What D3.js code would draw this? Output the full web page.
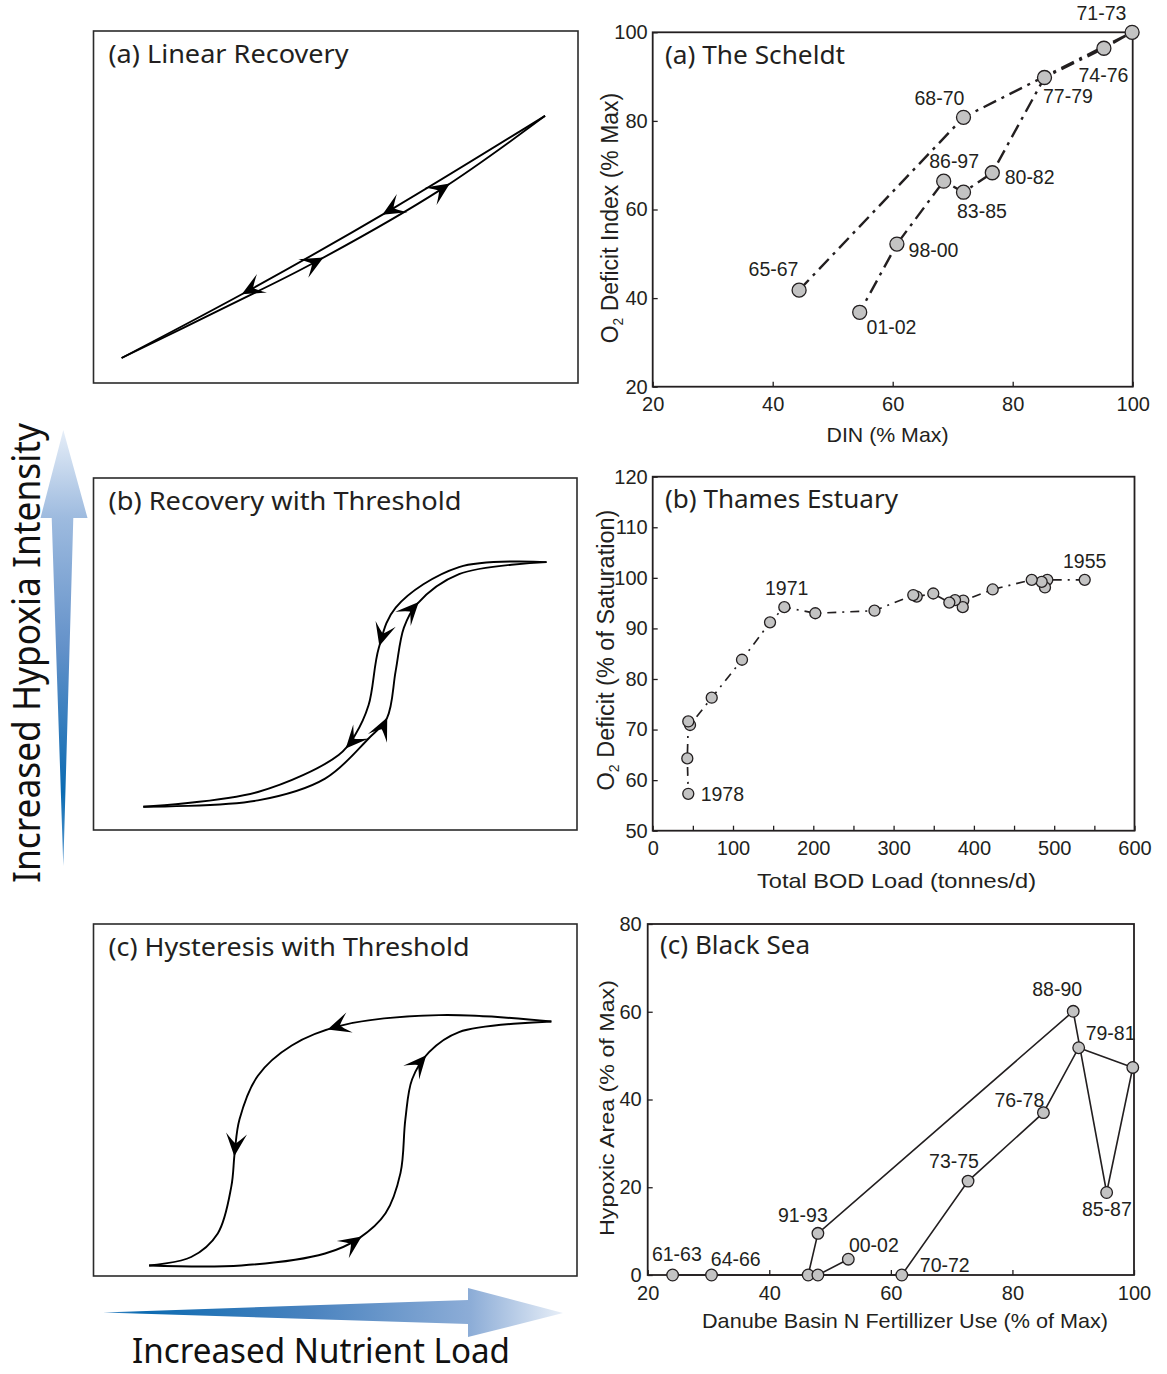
<!DOCTYPE html>
<html><head><meta charset="utf-8">
<script src="https://cdn.jsdelivr.net/npm/d3@7"></script>
<style>body{margin:0;background:#fff}svg{display:block}</style>
</head><body><svg id="c" width="1167" height="1374"></svg>
<script>
// ---------------- DATA ----------------
// (a) The Scheldt
const scheldtPeriods = ["65-67","68-70","71-73","74-76","77-79","80-82","83-85","86-97","98-00","01-02"];
const scheldtDIN     = [44.4, 71.8, 99.9, 95.2, 85.3, 76.6, 71.8, 68.5, 60.7, 54.5];
const scheldtO2      = [41.8, 80.8, 100.0, 96.4, 89.8, 68.3, 63.9, 66.4, 52.2, 36.8];
const scheldtXTicks  = [20, 40, 60, 80, 100];
const scheldtYTicks  = [20, 40, 60, 80, 100];

// (b) Thames Estuary (1955 -> 1978)
const thamesBOD    = [538, 491.4, 488.5, 484.4, 472.0, 423.4, 386.8, 386.1, 376.5, 369.4, 349.4, 328.8, 324.5, 276.2, 202.5, 163.9, 146.1, 111.2, 73.5, 46.5, 44.3, 43.1, 44.3];
const thamesO2     = [99.6, 99.6, 98.1, 99.2, 99.6, 97.7, 95.5, 94.2, 95.6, 95.1, 96.9, 96.3, 96.6, 93.5, 93.0, 94.2, 91.2, 83.8, 76.3, 70.9, 71.6, 64.3, 57.3];
const thamesLabels = ["1955","","","","","","","","","","","","","","","1971","","","","","","","1978"];
const thamesXTicks = [0, 50, 100, 150, 200, 250, 300, 350, 400, 450, 500, 550, 600];
const thamesYTicks = [50, 60, 70, 80, 90, 100, 110, 120];

// (c) Black Sea
const blackSeaLabels  = ["61-63","64-66","70-72","73-75","76-78","79-81","","85-87","88-90","91-93","","","00-02"];
const blackSeaN       = [24.1, 30.5, 61.8, 72.7, 85.1, 90.9, 99.8, 95.5, 90.0, 48.0, 46.4, 48.0, 53.0];
const blackSeaHypoxic = [0, 0, 0, 21.4, 37.0, 51.8, 47.3, 18.8, 60.1, 9.5, 0, 0, 3.6];
const blackSeaXTicks  = [20, 40, 60, 80, 100];
const blackSeaYTicks  = [0, 20, 40, 60, 80];

// Conceptual curves (panel units 0-100, drawn from low load to high load)
const linearUpper = [[5.8,7.1],[32.6,26.7],[61.6,49.4],[93.2,75.9]];
const linearLower = [[5.8,7.1],[28.2,22.2],[45.0,33.8],[71.5,54.8],[93.2,75.9]];
const thresholdUpper = [[10.3,6.6],[34.0,10.8],[50.7,21.3],[54.1,27.0],[56.9,35.5],[59.0,51.7],[62.5,63.2],[75.6,74.7],[93.7,76.1]];
const thresholdLower = [[10.3,6.6],[34.0,8.4],[47.9,14.6],[56.9,26.0],[60.7,31.8],[62.5,45.2],[64.2,57.5],[66.9,64.2],[75.6,72.7],[93.7,76.1]];
const hysteresisUpper = [[11.5,3.0],[20.2,5.4],[25.7,12.1],[28.5,25.4],[29.2,35.0],[30.2,44.5],[34.0,56.9],[41.0,65.5],[51.4,71.2],[71.5,74.1],[94.7,72.3]];
const hysteresisLower = [[11.5,3.0],[30.6,3.0],[47.9,6.4],[54.9,10.7],[60.4,17.8],[63.5,29.3],[64.5,44.5],[65.9,55.9],[69.4,63.6],[75.6,69.3],[94.7,72.3]];

// ---------------- LAYOUT / STYLE ----------------
const INK = "#231f20";
const FONT_NUM = "'Liberation Sans', Arial, sans-serif";
const FONT_TITLE = "'Noto Sans', 'Open Sans', sans-serif";

const svg = d3.select("#c");
const defs = svg.append("defs");

function addText(x, y, str, opt) {
  const t = svg.append("text").attr("x", x).attr("y", y).text(str)
    .attr("font-family", opt.font || FONT_NUM).attr("font-size", opt.size || 20)
    .attr("fill", opt.fill || INK).attr("text-anchor", opt.anchor || "start");
  if (opt.len) t.attr("textLength", opt.len).attr("lengthAdjust", "spacingAndGlyphs");
  if (opt.rotate) t.attr("transform", `rotate(${opt.rotate},${x},${y})`);
  return t;
}

function axesFrame(x, y, xTicks, yTicks, xFmt, pads) {
  const [x0, x1] = x.range(), [y0, y1] = y.range();
  const g = svg.append("g");
  g.append("g").attr("transform", `translate(0,${y0})`)
    .call(d3.axisBottom(x).tickValues(xTicks).tickFormat(xFmt).tickSizeInner(-5).tickSizeOuter(0).tickPadding(pads.x));
  g.append("g").attr("transform", `translate(${x0},0)`)
    .call(d3.axisLeft(y).tickValues(yTicks).tickFormat(d3.format("d")).tickSizeInner(-5).tickSizeOuter(0).tickPadding(pads.y));
  g.selectAll(".domain").remove();
  g.selectAll(".tick line").attr("stroke", INK).attr("stroke-width", 1.3);
  g.selectAll(".tick text").attr("font-family", FONT_NUM).attr("font-size", 20).attr("fill", INK);
  g.append("rect").attr("x", x0).attr("y", y1).attr("width", x1 - x0).attr("height", y0 - y1)
    .attr("fill", "none").attr("stroke", INK).attr("stroke-width", 1.8);
}

function drawSeries(x, y, xs, ys, labels, offsets, st) {
  const pts = xs.map((v, i) => [x(v), y(ys[i])]);
  svg.append("path").attr("d", d3.line()(pts)).attr("fill", "none")
    .attr("stroke", INK).attr("stroke-width", st.width).attr("stroke-dasharray", st.dash || null)
    .attr("stroke-linecap", "butt");
  svg.append("g").selectAll("circle").data(pts).join("circle")
    .attr("cx", d => d[0]).attr("cy", d => d[1]).attr("r", st.r)
    .attr("fill", "#c3c3c3").attr("stroke", INK).attr("stroke-width", 1.3);
  labels.forEach((lab, i) => {
    if (!lab) return;
    const o = offsets[lab] || [5, -8];
    addText(pts[i][0] + o[0], pts[i][1] + o[1], lab, { size: 19.5 });
  });
}

function o2Title(x, y, rest, size) {
  const t = svg.append("text").attr("transform", `translate(${x},${y}) rotate(-90)`)
    .attr("text-anchor", "middle").attr("font-family", FONT_NUM).attr("font-size", size).attr("fill", INK);
  t.append("tspan").text("O");
  t.append("tspan").text("2").attr("font-size", size * 0.6).attr("dy", 5);
  t.append("tspan").text(rest).attr("dy", -5);
}

// ---------------- (a) The Scheldt ----------------
const sx = d3.scaleLinear().domain([20, 100]).range([652.7, 1132.7]);
const sy = d3.scaleLinear().domain([20, 100]).range([386.7, 32.3]);
axesFrame(sx, sy, scheldtXTicks, scheldtYTicks, d3.format("d"), { x: 10, y: 5 });
drawSeries(sx, sy, scheldtDIN, scheldtO2, scheldtPeriods, {
  "65-67": [-50.5, -14], "68-70": [-49, -12.3], "71-73": [-55.6, -12], "74-76": [-25.4, 33.4],
  "77-79": [-1.5, 26], "80-82": [12.4, 11.6], "83-85": [-6.5, 26], "86-97": [-14.5, -12.7],
  "98-00": [11.7, 12.7], "01-02": [6.9, 22]
}, { width: 2.4, dash: "14,6,3,6", r: 7 });
addText(665, 64, "(a) The Scheldt", { font: FONT_TITLE, size: 26, len: 180 });
addText(887.5, 442, "DIN (% Max)", { size: 21, anchor: "middle", len: 122 });
o2Title(618, 218, " Deficit Index (% Max)", 23);

// ---------------- (b) Thames Estuary ----------------
const tx = d3.scaleLinear().domain([0, 600]).range([652.7, 1134.5]);
const ty = d3.scaleLinear().domain([50, 120]).range([830.7, 476.7]);
axesFrame(tx, ty, thamesXTicks, thamesYTicks, d => (d % 100 === 0 ? d : ""), { x: 10, y: 5 });
drawSeries(tx, ty, thamesBOD, thamesO2, thamesLabels, {
  "1955": [-21.7, -12.2], "1971": [-19.3, -12.3], "1978": [12.4, 7.7]
}, { width: 1.7, dash: "9,6,2,6", r: 5.5 });
addText(665, 508, "(b) Thames Estuary", { font: FONT_TITLE, size: 26, len: 233 });
addText(896.5, 888, "Total BOD Load (tonnes/d)", { size: 21, anchor: "middle", len: 279 });
o2Title(614, 650, " Deficit (% of Saturation)", 23.5);

// ---------------- (c) Black Sea ----------------
const bx = d3.scaleLinear().domain([20, 100]).range([647.7, 1134]);
const by = d3.scaleLinear().domain([0, 80]).range([1275, 924]);
axesFrame(bx, by, blackSeaXTicks, blackSeaYTicks, d3.format("d"), { x: 11, y: 6 });
drawSeries(bx, by, blackSeaN, blackSeaHypoxic, blackSeaLabels, {
  "61-63": [-20.7, -14.3], "64-66": [-0.7, -9.3], "70-72": [18, -2.6], "73-75": [-39, -13.3],
  "76-78": [-49, -6], "79-81": [7, -7.7], "85-87": [-24.7, 23.3], "88-90": [-41, -15.3],
  "91-93": [-40, -11.6], "00-02": [0.6, -7.3]
}, { width: 1.6, dash: null, r: 5.8 });
addText(660, 954, "(c) Black Sea", { font: FONT_TITLE, size: 26, len: 150 });
addText(905, 1328, "Danube Basin N Fertillizer Use (% of Max)", { size: 21, anchor: "middle", len: 406 });
addText(614, 1108, "Hypoxic Area (% of Max)", { size: 21, anchor: "middle", len: 256, rotate: -90 });

// ---------------- Conceptual panels ----------------
function conceptPanel(box, title, titleLen, curves, arrowList) {
  const x = d3.scaleLinear().domain([0, 100]).range([box.x0, box.x1]);
  const y = d3.scaleLinear().domain([0, 100]).range([box.y1, box.y0]);
  svg.append("rect").attr("x", box.x0).attr("y", box.y0).attr("width", box.x1 - box.x0).attr("height", box.y1 - box.y0)
    .attr("fill", "none").attr("stroke", "#2b2b2b").attr("stroke-width", 1.6);
  addText(box.x0 + 15, box.y0 + 31.5, title, { font: FONT_TITLE, size: 26, len: titleLen });
  const line = d3.line().x(d => x(d[0])).y(d => y(d[1])).curve(d3.curveCatmullRom.alpha(0.5));
  const nodes = curves.map(c => svg.append("path").attr("d", line(c)).attr("fill", "none")
    .attr("stroke", "#000").attr("stroke-width", 1.9).node());
  arrowList.forEach(a => {
    const node = nodes[a[0]];
    const L = node.getTotalLength();
    const txp = x(a[1]), typ = y(a[2]);
    let best = 0, bd = Infinity;
    for (let l = 0; l <= L; l += 0.5) {
      const p = node.getPointAtLength(l);
      const d = (p.x - txp) ** 2 + (p.y - typ) ** 2;
      if (d < bd) { bd = d; best = l; }
    }
    const p1 = node.getPointAtLength(Math.max(0, best - 3));
    const p2 = node.getPointAtLength(Math.min(L, best + 3));
    let ang = Math.atan2(p2.y - p1.y, p2.x - p1.x) * 180 / Math.PI;
    if (a[3]) ang += 180;
    const p = node.getPointAtLength(best);
    svg.append("path").attr("d", "M0,0 L-23,-10.5 Q-15,-3 -13,0 Q-15,3 -23,10.5 Z")
      .attr("transform", `translate(${p.x},${p.y}) rotate(${ang})`).attr("fill", "#000");
  });
}
conceptPanel({ x0: 93.5, x1: 578, y0: 31, y1: 383 }, "(a) Linear Recovery", 240,
  [linearUpper, linearLower],
  [[0, 30.5, 25.4, true], [0, 59.6, 47.8, true], [1, 47.8, 34.9, false], [1, 73.8, 56.1, false]]);
conceptPanel({ x0: 93.5, x1: 577, y0: 478, y1: 830 }, "(b) Recovery with Threshold", 353,
  [thresholdUpper, thresholdLower],
  [[0, 59.4, 52.2, true], [0, 52.1, 23.2, true], [1, 67.0, 65.1, false], [1, 61.1, 31.7, false]]);
conceptPanel({ x0: 93.5, x1: 577, y0: 924, y1: 1276 }, "(c) Hysteresis with Threshold", 361,
  [hysteresisUpper, hysteresisLower],
  [[0, 48.3, 70.7, true], [0, 29.0, 34.0, true], [1, 55.5, 11.1, false], [1, 67.7, 64.1, false]]);

// ---------------- Gradient arrows ----------------
const gv = defs.append("linearGradient").attr("id", "gv").attr("gradientUnits", "userSpaceOnUse")
  .attr("x1", 0).attr("y1", 430).attr("x2", 0).attr("y2", 866);
[[0, "#e6eef8"], [0.2, "#9ebbdf"], [0.5, "#6391c9"], [0.83, "#0b6bb2"], [1, "#5d9bd0"]]
  .forEach(s => gv.append("stop").attr("offset", s[0]).attr("stop-color", s[1]));
const gh = defs.append("linearGradient").attr("id", "gh").attr("gradientUnits", "userSpaceOnUse")
  .attr("x1", 103).attr("y1", 0).attr("x2", 563).attr("y2", 0);
[[0, "#4a8fc9"], [0.08, "#0b6ab1"], [0.45, "#4a83bf"], [0.8, "#8dadd7"], [1, "#e8eff8"]]
  .forEach(s => gh.append("stop").attr("offset", s[0]).attr("stop-color", s[1]));

const vArrow = [[63.3, 430], [87.5, 518], [73.3, 518], [63.3, 866], [51.7, 518], [40.5, 518]];
const hArrow = [[103, 1312.5], [468, 1300], [468, 1288], [563, 1313], [468, 1337], [468, 1324]];
svg.append("path").attr("d", d3.line()(vArrow) + "Z").attr("fill", "url(#gv)");
svg.append("path").attr("d", d3.line()(hArrow) + "Z").attr("fill", "url(#gh)");

addText(39.5, 653, "Increased Hypoxia Intensity", { font: FONT_TITLE, size: 38, anchor: "middle", len: 460, rotate: -90, fill: "#111" });
addText(321, 1363, "Increased Nutrient Load", { font: FONT_TITLE, size: 34, anchor: "middle", len: 378, fill: "#111" });
</script>
</body></html>
